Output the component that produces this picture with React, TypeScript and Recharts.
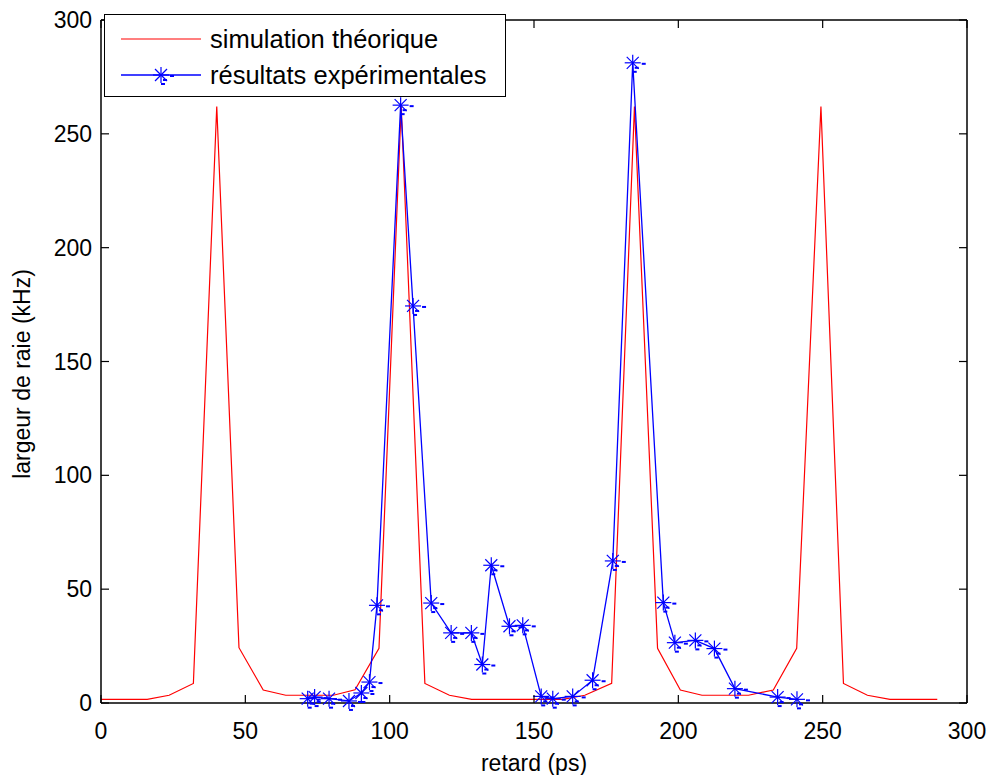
import { LineChart, Line, XAxis, YAxis } from "recharts";

// simulation théorique (red)
const simX = [0, 8, 16, 23.6, 32, 40.1, 47.8, 56.2, 64, 72, 80.5, 88, 96.3, 104, 112.2, 120.7, 128.4, 136.3, 144.2, 152, 160, 167.6, 176.9, 184.8, 192.8, 200.7, 208.2, 216.3, 224.3, 232.9, 241, 249.4, 257.2, 265.5, 273.3, 281.5, 289.7];
const simY = [1.6, 1.6, 1.6, 3.4, 8.6, 262, 24.3, 5.7, 3.4, 3.4, 3.4, 5.8, 24, 262, 8.6, 3.4, 1.6, 1.6, 1.6, 1.6, 1.6, 3.4, 8.6, 262, 24, 5.7, 3.4, 3.4, 3.4, 5.7, 24, 262, 8.6, 3.4, 1.6, 1.6, 1.6];

// résultats expérimentales (blue)
const expX = [71.6, 74.0, 79.0, 85.9, 90.2, 93.0, 95.6, 103.8, 108.1, 114.4, 121.3, 128.3, 132.1, 135.2, 141.5, 146.1, 152.5, 156.5, 163.4, 170.3, 177.3, 184.2, 194.8, 198.8, 205.9, 212.5, 219.6, 234.4, 241.1];
const expY = [1.9, 2.6, 1.9, 0.9, 4.4, 9.2, 42.9, 262.6, 174.4, 43.9, 30.8, 30.8, 16.9, 60.5, 33.7, 34.1, 2.9, 1.9, 2.9, 10, 62.4, 281.2, 44.1, 26.5, 27.5, 23.9, 6.3, 2.6, 1.6];

const xTicks = [0, 50, 100, 150, 200, 250, 300];
const yTicks = [0, 50, 100, 150, 200, 250, 300];

const simData = simX.map((x, i) => ({ x, y: simY[i] }));
const expData = expX.map((x, i) => ({ x, y: expY[i] }));

const FONT = "'Liberation Sans', Arial, sans-serif";
const TICK = 8;

const BottomTick = ({ x, y, payload }: any) => (
  <g>
    <line x1={x} y1={y} x2={x} y2={y - TICK} stroke="#000" strokeWidth={1.2} />
    <text x={x} y={y + 36} textAnchor="middle" fontSize={23} fontFamily={FONT} fill="#000">
      {payload.value}
    </text>
  </g>
);

const TopTick = ({ x, y }: any) => (
  <line x1={x} y1={y} x2={x} y2={y + TICK} stroke="#000" strokeWidth={1.2} />
);

const LeftTick = ({ x, y, payload }: any) => (
  <g>
    <line x1={x} y1={y} x2={x + TICK} y2={y} stroke="#000" strokeWidth={1.2} />
    <text x={x - 9} y={y + 8} textAnchor="end" fontSize={23} fontFamily={FONT} fill="#000">
      {payload.value}
    </text>
  </g>
);

const RightTick = ({ x, y }: any) => (
  <line x1={x} y1={y} x2={x - TICK} y2={y} stroke="#000" strokeWidth={1.2} />
);

const Star = ({ cx, cy }: any) => {
  if (cx == null || cy == null) return <g />;
  return (
    <g stroke="#0000ff" fill="none">
      <line x1={cx - 8} y1={cy} x2={cx + 8} y2={cy} strokeWidth={1.2} />
      <line x1={cx} y1={cy - 8} x2={cx} y2={cy + 8} strokeWidth={1.2} />
      <line x1={cx - 6} y1={cy - 6} x2={cx + 6} y2={cy + 6} strokeWidth={1.2} />
      <line x1={cx - 6} y1={cy + 6} x2={cx + 6} y2={cy - 6} strokeWidth={1.2} />
      <line x1={cx + 9} y1={cy + 1} x2={cx + 13} y2={cy + 1} strokeWidth={2} />
      <line x1={cx + 2} y1={cy + 5} x2={cx + 6} y2={cy + 5} strokeWidth={2} />
      <line x1={cx} y1={cy + 9} x2={cx + 4} y2={cy + 9} strokeWidth={2} />
    </g>
  );
};

const YLabel = () => (
  <text
    x={30}
    y={374}
    transform="rotate(-90, 30, 374)"
    textAnchor="middle"
    fontSize={23}
    fontFamily={FONT}
    fill="#000"
  >
    largeur de raie (kHz)
  </text>
);

const XLabel = () => (
  <text x={534} y={771} textAnchor="middle" fontSize={23} fontFamily={FONT} fill="#000">
    retard (ps)
  </text>
);

export default function App() {
  return (
    <div style={{ position: "absolute", left: 0, top: 0, width: 994, height: 775, background: "#fff" }}>
      <LineChart
        width={994}
        height={775}
        margin={{ top: 19, right: 26, bottom: 32, left: 41 }}
      >
        <XAxis
          xAxisId={0}
          dataKey="x"
          type="number"
          domain={[0, 300]}
          ticks={xTicks}
          interval={0}
          height={40}
          tickSize={0}
          tickMargin={0}
          tickLine={false}
          axisLine={{ stroke: "#000", strokeWidth: 1.5 }}
          tick={<BottomTick />}
          label={<XLabel />}
        />
        <XAxis
          xAxisId="top"
          orientation="top"
          dataKey="x"
          type="number"
          domain={[0, 300]}
          ticks={xTicks}
          interval={0}
          height={1}
          tickSize={0}
          tickMargin={0}
          tickLine={false}
          axisLine={{ stroke: "#000", strokeWidth: 1.5 }}
          tick={<TopTick />}
        />
        <YAxis
          yAxisId={0}
          type="number"
          domain={[0, 300]}
          ticks={yTicks}
          interval={0}
          width={60}
          tickSize={0}
          tickMargin={0}
          tickLine={false}
          axisLine={{ stroke: "#000", strokeWidth: 1.5 }}
          tick={<LeftTick />}
          label={<YLabel />}
        />
        <YAxis
          yAxisId="right"
          orientation="right"
          type="number"
          domain={[0, 300]}
          ticks={yTicks}
          interval={0}
          width={1}
          tickSize={0}
          tickMargin={0}
          tickLine={false}
          axisLine={{ stroke: "#000", strokeWidth: 1.5 }}
          tick={<RightTick />}
        />
        <Line
          xAxisId="top"
          yAxisId="right"
          data={simData}
          dataKey="y"
          type="linear"
          stroke="#ff0000"
          strokeWidth={1.2}
          dot={false}
          isAnimationActive={false}
        />
        <Line
          xAxisId={0}
          yAxisId={0}
          data={expData}
          dataKey="y"
          type="linear"
          stroke="#0000ff"
          strokeWidth={1.3}
          dot={<Star />}
          isAnimationActive={false}
        />
      </LineChart>
      <div
        style={{
          position: "absolute",
          left: 104,
          top: 14,
          width: 402,
          height: 83,
          boxSizing: "border-box",
          border: "1.5px solid #000",
          background: "#fff",
        }}
      >
        <svg width={400} height={81} style={{ display: "block" }}>
          <line x1={16} y1={24} x2={96} y2={24} stroke="#ff0000" strokeWidth={1.2} />
          <text x={105} y={33} fontSize={25.5} fontFamily={FONT} fill="#000">
            simulation théorique
          </text>
          <line x1={16} y1={60} x2={96} y2={60} stroke="#0000ff" strokeWidth={1.3} />
          <Star cx={56} cy={60} />
          <text x={105} y={69} fontSize={25.5} fontFamily={FONT} fill="#000">
            résultats expérimentales
          </text>
        </svg>
      </div>
    </div>
  );
}
